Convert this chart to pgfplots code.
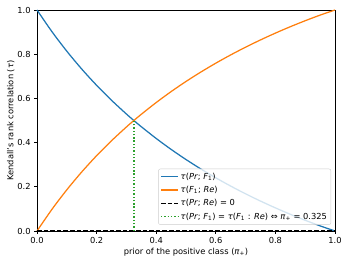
\documentclass[border=0pt]{standalone}
\usepackage{pgfplots}
\pgfplotsset{compat=1.18}
\usepackage{fontspec}
\setmainfont{DejaVu Sans}
\definecolor{mblue}{HTML}{1F77B4}
\definecolor{morange}{HTML}{FF7F0E}
\definecolor{mgreen}{HTML}{2CA02C}
\begin{document}
\begin{tikzpicture}
\begin{axis}[
  width=298pt, height=221pt, scale only axis,
  xmin=0, xmax=1, ymin=0, ymax=1,
  xtick={0,0.2,0.4,0.6,0.8,1}, ytick={0,0.2,0.4,0.6,0.8,1},
  xticklabel style={/pgf/number format/.cd,fixed,fixed zerofill,precision=1},
  yticklabel style={/pgf/number format/.cd,fixed,fixed zerofill,precision=1},
  /pgf/number format/assume math mode=true,
  tick label style={font=\fontsize{8.3}{10}\selectfont},
  label style={font=\fontsize{8.3}{10}\selectfont},
  tick align=outside, tick pos=left,
  major tick length=2.9pt,
  axis line style={line width=0.67pt},
  every tick/.style={black,line width=0.67pt},
  xlabel={prior of the positive class (\textit{π}\textsubscript{+})},
  ylabel={Kendall's rank correlation (\textit{τ})},
  xlabel style={yshift=2pt},
  ylabel style={yshift=-4pt},
  clip=false,
  legend cell align=left,
  legend style={font=\fontsize{8.3}{10}\selectfont, draw=black!20, rounded corners=2pt,
    fill=white, fill opacity=0.8, text opacity=1, at={(0.987,0.028)}, anchor=south east,
    inner xsep=2pt, inner ysep=2pt, row sep=1.5pt,
    /tikz/every even column/.append style={column sep=0pt}},
  legend image code/.code={\draw[#1] (0pt,0pt) -- (17pt,0pt);},
]
\addplot[mblue, line width=1.25pt, smooth] coordinates {
(0,1) (0.05,0.90227) (0.1,0.81366) (0.15,0.73299) (0.2,0.65924) (0.25,0.59163)
(0.3,0.52934) (0.325,0.5) (0.35,0.47187) (0.4,0.41868) (0.45,0.36930) (0.5,0.32339)
(0.55,0.28059) (0.6,0.24061) (0.65,0.20320) (0.7,0.16823) (0.75,0.13539) (0.8,0.10459)
(0.85,0.07565) (0.9,0.04852) (0.95,0.02317) (1,0)};
\addlegendentry{\textit{τ}(\textit{Pr}; \textit{F}\textsubscript{1})}
\addplot[morange, line width=1.25pt, smooth] coordinates {
(0,0) (0.05,0.09773) (0.1,0.18634) (0.15,0.26701) (0.2,0.34076) (0.25,0.40837)
(0.3,0.47066) (0.325,0.5) (0.35,0.52813) (0.4,0.58132) (0.45,0.63070) (0.5,0.67661)
(0.55,0.71941) (0.6,0.75939) (0.65,0.79680) (0.7,0.83177) (0.75,0.86461) (0.8,0.89541)
(0.85,0.92435) (0.9,0.95148) (0.95,0.97683) (1,1)};
\addlegendentry{\textit{τ}(\textit{F}\textsubscript{1}; \textit{Re})}
\addplot[black, line width=1.25pt, dash pattern=on 4.6pt off 2pt] coordinates {(0,0) (1,0)};
\addlegendentry{\textit{τ}(\textit{Pr}; \textit{Re}) = 0}
\addplot[color=mgreen, line width=1.3pt, dash pattern=on 1.4pt off 1.9pt] coordinates {(0.325,0) (0.325,0.5)};
\addlegendentry{\textit{τ}(\textit{Pr}; \textit{F}\textsubscript{1}) = \textit{τ}(\textit{F}\textsubscript{1} : \textit{Re}) ⇔ \textit{π}\textsubscript{+} = 0.325}
\end{axis}
\pgfresetboundingbox
\useasboundingbox (-37pt,-33pt) rectangle (310pt,231pt);
\end{tikzpicture}
\end{document}
